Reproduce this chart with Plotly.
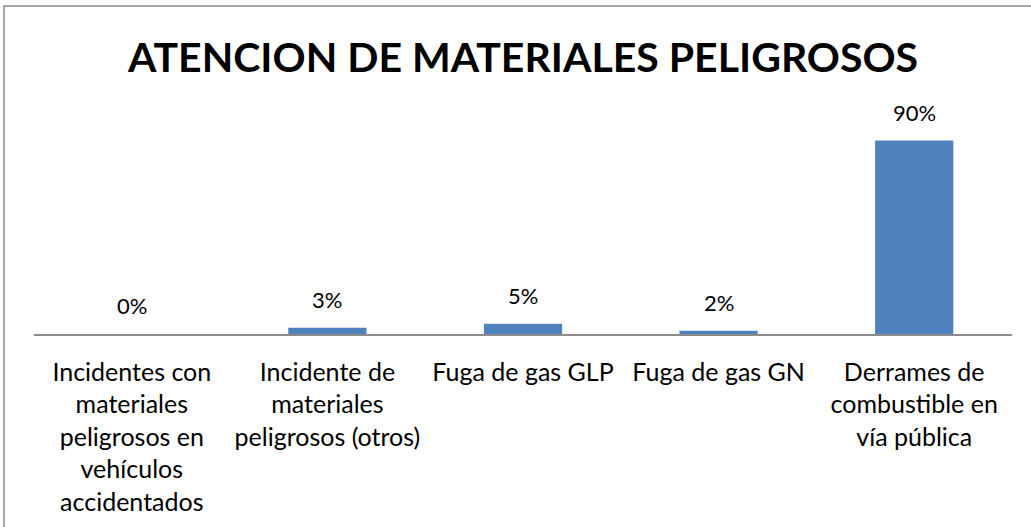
import plotly.graph_objects as go

categories = [
    "Incidentes con<br>materiales<br>peligrosos en<br>vehículos<br>accidentados",
    "Incidente de<br>materiales<br>peligrosos (otros)",
    "Fuga de gas GLP",
    "Fuga de gas GN",
    "Derrames de<br>combustible en<br>vía pública",
]
values = [0.0, 2.9, 4.8, 1.5, 90.4]
labels = ["0%", "3%", "5%", "2%", "90%"]

BAR = "#4F81BD"
FONT = "Lato"

fig = go.Figure()
fig.add_trace(go.Bar(x=categories, y=values, marker=dict(color=BAR, line=dict(width=0)),
                     hoverinfo="skip"))

for cat, val, lab in zip(categories, values, labels):
    fig.add_annotation(x=cat, y=val, text=lab, showarrow=False, yanchor="bottom",
                       yshift=13, font=dict(family=FONT, size=22, color="#000000"))

# outer chart border; the right and bottom edges fall outside the picture
fig.add_shape(type="rect", xref="paper", yref="paper",
              x0=-0.0307, x1=1.03, y0=-0.95, y1=1.533,
              line=dict(color="#8c8c8c", width=1.5), fillcolor="rgba(0,0,0,0)", layer="below")

fig.update_layout(
    width=1031,
    height=527,
    margin=dict(l=34, r=19, t=120, b=193),
    paper_bgcolor="white",
    plot_bgcolor="white",
    bargap=0.6,
    showlegend=False,
    title=dict(text="<b>ATENCION DE MATERIALES PELIGROSOS</b>", x=0.5, xref="paper",
               xanchor="center", y=0.89, yanchor="middle",
               font=dict(family=FONT, size=41, color="#000000")),
    font=dict(family=FONT, color="#000000"),
)
fig.update_xaxes(showline=True, linecolor="#8c8c8c", linewidth=1.5, ticks="",
                 ticklabelstandoff=15,
                 tickfont=dict(family=FONT, size=25, color="#000000"), fixedrange=True)
fig.update_yaxes(range=[0, 100], visible=False, fixedrange=True)

fig.write_html("out.html", config={"displayModeBar": False},
               post_script="document.body.style.margin='0';")
